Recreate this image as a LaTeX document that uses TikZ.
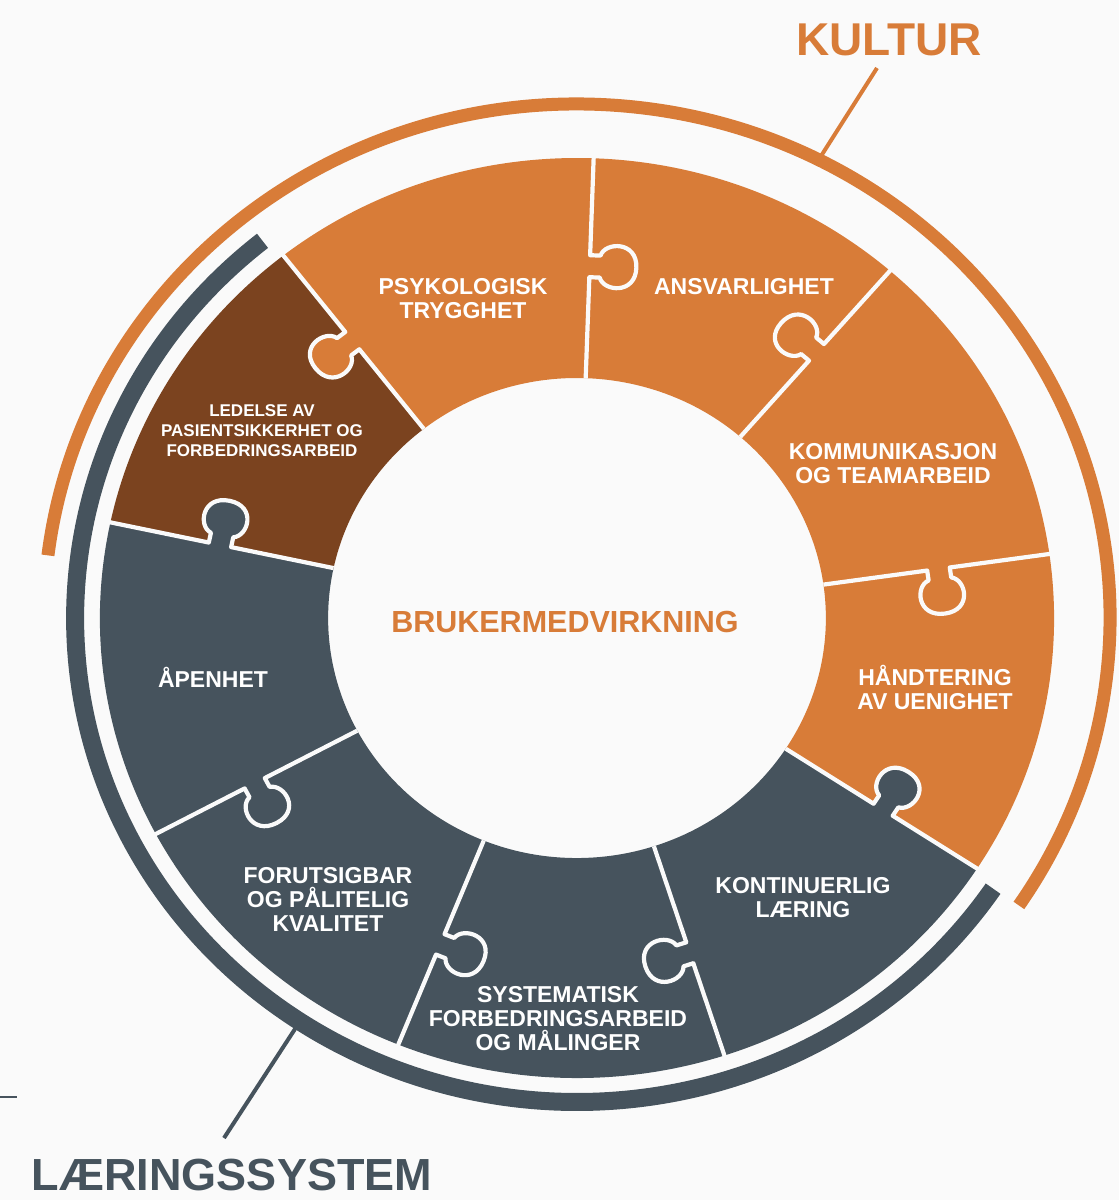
\documentclass[tikz,border=0pt]{standalone}
\usepackage{fontspec}
\setmainfont{Liberation Sans}

\definecolor{kulturorange}{RGB}{216,124,56}
\definecolor{ledelsebrown}{RGB}{123,67,31}
\definecolor{systemgrey}{RGB}{70,83,93}
\definecolor{paper}{RGB}{250,250,250}

% the cut between two pieces, knob on the positive side
\newcommand{\knobfill}{(341,-1) -- (341,10) .. controls (327,14) and (325,45) .. (352,45)
  .. controls (379,45) and (377,14) .. (363,10) -- (363,-1) -- cycle}
\newcommand{\knobcut}{(240,0) -- (341,0) -- (341,10) .. controls (327,14) and (325,45) .. (352,45)
  .. controls (379,45) and (377,14) .. (363,10) -- (363,0) -- (461,0)}

\begin{document}
\begin{tikzpicture}[x=1pt,y=1pt]
\tikzstyle{every node}=[font=\bfseries, text=white, align=center, inner sep=0pt]
\tikzstyle{piecelabel}=[font=\fontsize{23}{24}\selectfont\bfseries]
\tikzstyle{smalllabel}=[font=\fontsize{17}{20}\selectfont\bfseries]
\tikzstyle{cut}=[draw=paper, line width=4.2pt, line join=round]

% Fix the page
\fill[paper] (0,0) rectangle (1119,-1200);
\useasboundingbox (0,0) rectangle (1119,-1200);

%
% Draw the ring of pieces (centre at 577,618)
%

\begin{scope}[shift={(577,-618)}, xscale=1.037]

% Fill in the three coloured parts of the ring
\fill[kulturorange] (-33:240) -- (-33:460) arc[start angle=-33, end angle=128, radius=460]
  -- (128:240) arc[start angle=128, end angle=-33, radius=240] -- cycle;
\fill[ledelsebrown] (128:240) -- (128:460) arc[start angle=128, end angle=168, radius=460]
  -- (168:240) arc[start angle=168, end angle=128, radius=240] -- cycle;
\fill[systemgrey] (168:240) -- (168:460) arc[start angle=168, end angle=327, radius=460]
  -- (327:240) arc[start angle=327, end angle=168, radius=240] -- cycle;

% Psykologisk | ansvarlighet
\begin{scope}[rotate=88, yscale=-1]
\fill[kulturorange] \knobfill;
\draw[cut] \knobcut;
\end{scope}

% Ansvarlighet | kommunikasjon
\begin{scope}[rotate=49]
\fill[kulturorange] \knobfill;
\draw[cut] \knobcut;
\end{scope}

% Kommunikasjon | handtering
\begin{scope}[rotate=8, yscale=-1]
\fill[kulturorange] \knobfill;
\draw[cut] \knobcut;
\end{scope}

% Handtering | kontinuerlig (grey knob into orange)
\begin{scope}[rotate=-33]
\fill[systemgrey] \knobfill;
\draw[cut] \knobcut;
\end{scope}

% Kontinuerlig | systematisk
\begin{scope}[rotate=-72, yscale=-1]
\fill[systemgrey] \knobfill;
\draw[cut] \knobcut;
\end{scope}

% Systematisk | forutsigbar
\begin{scope}[rotate=-112]
\fill[systemgrey] \knobfill;
\draw[cut] \knobcut;
\end{scope}

% Forutsigbar | apenhet
\begin{scope}[rotate=-152]
\fill[systemgrey] \knobfill;
\draw[cut] \knobcut;
\end{scope}

% Apenhet | ledelse (grey knob into brown)
\begin{scope}[rotate=168, yscale=-1]
\fill[systemgrey] \knobfill;
\draw[cut] \knobcut;
\end{scope}

% Ledelse | psykologisk (orange knob into brown)
\begin{scope}[rotate=128]
\fill[kulturorange] \knobfill;
\draw[cut] \knobcut;
\end{scope}

% Draw the two outer arcs
\draw[kulturorange, line width=13pt] (173:514) arc[start angle=173, end angle=-34, radius=514];
\draw[systemgrey, line width=18pt] (128.8:484) arc[start angle=128.8, end angle=326, radius=484];

\coordinate (kulturfoot) at (63:519);
\coordinate (laeringfoot) at (-123.5:490);

\end{scope}

%
% Draw the labels
%

\node[font=\fontsize{30.5}{31}\selectfont\bfseries, text=kulturorange] (bruker) at (565,-622) {BRUKERMEDVIRKNING};

\node[piecelabel] (psyk) at (463,-299) {PSYKOLOGISK\\TRYGGHET};
\node[piecelabel] (ansv) at (744,-287) {ANSVARLIGHET};
\node[piecelabel] (komm) at (893,-464) {KOMMUNIKASJON\\OG TEAMARBEID};
\node[piecelabel] (hand) at (935,-687) {HÅNDTERING\\AV UENIGHET};
\node[piecelabel] (kont) at (803,-898) {KONTINUERLIG\\LÆRING};
\node[piecelabel] (syst) at (558,-1019) {SYSTEMATISK\\FORBEDRINGSARBEID\\OG MÅLINGER};
\node[piecelabel] (foru) at (328,-899) {FORUTSIGBAR\\OG PÅLITELIG\\KVALITET};
\node[piecelabel] (apen) at (213,-677) {ÅPENHET};
\node[smalllabel] (ledelse) at (262,-431) {LEDELSE AV\\PASIENTSIKKERHET OG\\FORBEDRINGSARBEID};

% Draw the two headings with their ticks
\node[font=\fontsize{46}{46}\selectfont\bfseries, text=kulturorange, anchor=base] (kultur) at (889,-55) {KULTUR};
\coordinate (kulturhead) at (877,-68);
\draw[kulturorange, line width=4pt] (kulturfoot) -- (kulturhead);

\node[font=\fontsize{45}{45}\selectfont\bfseries, text=systemgrey, anchor=base] (laering) at (232,-1190) {LÆRINGSSYSTEM};
\coordinate (laeringhead) at (224,-1138);
\draw[systemgrey, line width=4pt] (laeringfoot) -- (laeringhead);

% Small stray rule at the left edge
\draw[systemgrey, line width=1.5pt] (0,-1097) -- (17,-1097);

\end{tikzpicture}
\end{document}
